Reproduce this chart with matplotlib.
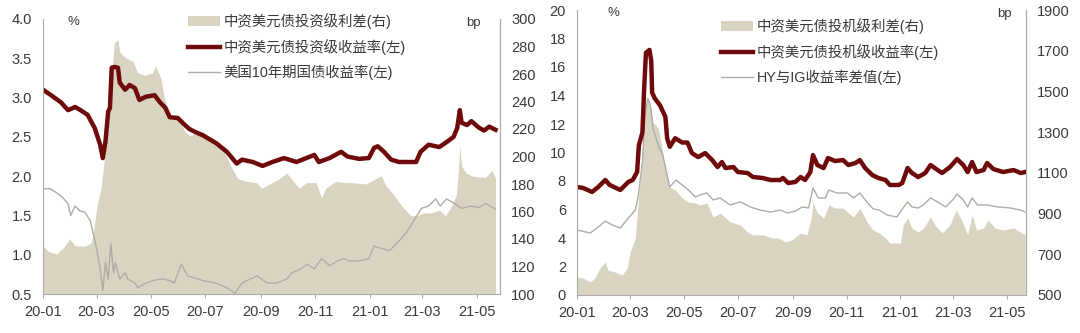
import matplotlib
matplotlib.use("Agg")
import matplotlib.pyplot as plt
import matplotlib.dates as mdates
import pandas as pd

plt.rcParams['font.family'] = ['Liberation Sans', 'Noto Sans CJK SC']

# ---- 投资级 (left panel) ----
ig_yield_dates = [
    "2020-01-01", "2020-01-10", "2020-01-21", "2020-01-29", "2020-02-06", "2020-02-12",
    "2020-02-20", "2020-02-28", "2020-03-05", "2020-03-08", "2020-03-11", "2020-03-14",
    "2020-03-16", "2020-03-18", "2020-03-21", "2020-03-25", "2020-03-27", "2020-04-02",
    "2020-04-07", "2020-04-13", "2020-04-18", "2020-04-25", "2020-05-05", "2020-05-11",
    "2020-05-17", "2020-05-22", "2020-05-31", "2020-06-08", "2020-06-13", "2020-06-20",
    "2020-06-28", "2020-07-13", "2020-07-25", "2020-08-05", "2020-08-11", "2020-08-23",
    "2020-09-03", "2020-09-14", "2020-09-27", "2020-10-11", "2020-10-22", "2020-10-31",
    "2020-11-05", "2020-11-17", "2020-11-30", "2020-12-07", "2020-12-20", "2020-12-31",
    "2021-01-06", "2021-01-10", "2021-01-17", "2021-01-25", "2021-02-03", "2021-02-14",
    "2021-02-22", "2021-02-27", "2021-03-08", "2021-03-20", "2021-03-29", "2021-04-05",
    "2021-04-09", "2021-04-12", "2021-04-14", "2021-04-20", "2021-04-25", "2021-05-03",
    "2021-05-09", "2021-05-15", "2021-05-22",
]
ig_yield = [
    3.10, 3.03, 2.94, 2.84, 2.88, 2.84,
    2.78, 2.61, 2.40, 2.23, 2.44, 2.82,
    2.87, 3.38, 3.39, 3.38, 3.19, 3.10,
    3.16, 3.12, 2.97, 3.01, 3.03, 2.94,
    2.87, 2.75, 2.74, 2.65, 2.60, 2.56,
    2.52, 2.42, 2.31, 2.16, 2.21, 2.18,
    2.13, 2.18, 2.23, 2.18, 2.23, 2.27,
    2.18, 2.23, 2.31, 2.25, 2.22, 2.23,
    2.36, 2.38, 2.31, 2.21, 2.18, 2.18,
    2.18, 2.31, 2.40, 2.37, 2.44, 2.50,
    2.61, 2.84, 2.68, 2.65, 2.70, 2.62,
    2.58, 2.63, 2.59,
]

ig_spread_dates = [
    "2020-01-01", "2020-01-07", "2020-01-16", "2020-01-23", "2020-01-31", "2020-02-06",
    "2020-02-17", "2020-02-24", "2020-02-28", "2020-03-02", "2020-03-06", "2020-03-10",
    "2020-03-14", "2020-03-17", "2020-03-21", "2020-03-25", "2020-03-27", "2020-04-02",
    "2020-04-11", "2020-04-16", "2020-04-24", "2020-05-03", "2020-05-06", "2020-05-12",
    "2020-05-16", "2020-05-23", "2020-05-31", "2020-06-08", "2020-06-14", "2020-06-22",
    "2020-06-28", "2020-07-09", "2020-07-20", "2020-07-31", "2020-08-06", "2020-08-16",
    "2020-08-27", "2020-09-02", "2020-09-11", "2020-09-22", "2020-09-30", "2020-10-05",
    "2020-10-14", "2020-10-22", "2020-11-02", "2020-11-08", "2020-11-13", "2020-11-24",
    "2020-12-06", "2020-12-12", "2020-12-28", "2021-01-08", "2021-01-14", "2021-01-19",
    "2021-01-28", "2021-02-06", "2021-02-16", "2021-02-23", "2021-03-03", "2021-03-11",
    "2021-03-20", "2021-03-27", "2021-04-03", "2021-04-08", "2021-04-10", "2021-04-12",
    "2021-04-14", "2021-04-19", "2021-04-25", "2021-05-03", "2021-05-11", "2021-05-18",
    "2021-05-22",
]
ig_spread = [
    135, 131, 129, 133, 140, 135,
    135, 137, 152, 166, 177, 199,
    223, 254, 283, 285, 276, 272,
    269, 261, 259, 261, 266, 257,
    242, 230, 229, 218, 215, 218,
    218, 213, 206, 191, 184, 182,
    181, 177, 180, 184, 188, 184,
    177, 181, 181, 170, 177, 182,
    181, 181, 180, 184, 186, 179,
    172, 164, 157, 157, 159, 159,
    161, 157, 164, 172, 186, 208,
    193, 188, 186, 185, 185, 190,
    184,
]

ust_dates = [
    "2020-01-01", "2020-01-09", "2020-01-16", "2020-01-23", "2020-01-29", "2020-02-01",
    "2020-02-06", "2020-02-11", "2020-02-17", "2020-02-23", "2020-02-26", "2020-03-01",
    "2020-03-05", "2020-03-08", "2020-03-11", "2020-03-14", "2020-03-17", "2020-03-20",
    "2020-03-22", "2020-03-27", "2020-04-02", "2020-04-05", "2020-04-13", "2020-04-16",
    "2020-04-24", "2020-05-03", "2020-05-11", "2020-05-16", "2020-05-22", "2020-05-27",
    "2020-06-04", "2020-06-11", "2020-06-20", "2020-06-28", "2020-07-13", "2020-07-25",
    "2020-08-03", "2020-08-11", "2020-08-20", "2020-08-28", "2020-09-08", "2020-09-19",
    "2020-09-30", "2020-10-06", "2020-10-16", "2020-10-23", "2020-10-31", "2020-11-08",
    "2020-11-17", "2020-11-26", "2020-12-03", "2020-12-09", "2020-12-20", "2020-12-31",
    "2021-01-06", "2021-01-11", "2021-01-23", "2021-02-01", "2021-02-11", "2021-02-16",
    "2021-02-23", "2021-02-28", "2021-03-08", "2021-03-16", "2021-03-21", "2021-03-28",
    "2021-04-05", "2021-04-14", "2021-04-25", "2021-05-03", "2021-05-11", "2021-05-22",
]
ust_yield = [
    1.84, 1.84, 1.79, 1.73, 1.65, 1.50,
    1.62, 1.56, 1.54, 1.43, 1.28, 1.08,
    0.82, 0.54, 0.90, 0.69, 1.14, 0.77,
    0.90, 0.69, 0.77, 0.69, 0.64, 0.58,
    0.63, 0.67, 0.69, 0.69, 0.67, 0.64,
    0.88, 0.73, 0.70, 0.67, 0.64, 0.58,
    0.51, 0.64, 0.69, 0.73, 0.64, 0.64,
    0.69, 0.77, 0.82, 0.88, 0.82, 0.95,
    0.86, 0.92, 0.95, 0.92, 0.92, 0.95,
    1.11, 1.09, 1.05, 1.15, 1.28, 1.37,
    1.50, 1.59, 1.62, 1.71, 1.62, 1.71,
    1.66, 1.59, 1.62, 1.60, 1.65, 1.58,
]

# ---- 投机级 (right panel) ----
hy_yield_dates = [
    "2020-01-01", "2020-01-08", "2020-01-18", "2020-01-25", "2020-02-02", "2020-02-07",
    "2020-02-19", "2020-02-28", "2020-03-04", "2020-03-09", "2020-03-11", "2020-03-15",
    "2020-03-17", "2020-03-19", "2020-03-23", "2020-03-25", "2020-03-26", "2020-03-29",
    "2020-04-04", "2020-04-10", "2020-04-12", "2020-04-15", "2020-04-21", "2020-04-29",
    "2020-05-05", "2020-05-10", "2020-05-17", "2020-05-25", "2020-06-02", "2020-06-08",
    "2020-06-13", "2020-06-17", "2020-06-26", "2020-07-01", "2020-07-12", "2020-07-18",
    "2020-07-29", "2020-08-07", "2020-08-18", "2020-08-21", "2020-08-27", "2020-09-04",
    "2020-09-10", "2020-09-15", "2020-09-21", "2020-09-24", "2020-09-29", "2020-10-06",
    "2020-10-11", "2020-10-19", "2020-10-28", "2020-11-03", "2020-11-11", "2020-11-16",
    "2020-11-22", "2020-11-30", "2020-12-07", "2020-12-15", "2020-12-20", "2020-12-30",
    "2021-01-03", "2021-01-09", "2021-01-14", "2021-01-21", "2021-01-29", "2021-02-04",
    "2021-02-12", "2021-02-17", "2021-02-26", "2021-03-06", "2021-03-13", "2021-03-18",
    "2021-03-23", "2021-03-28", "2021-04-05", "2021-04-09", "2021-04-16", "2021-04-27",
    "2021-05-09", "2021-05-17", "2021-05-22",
]
hy_yield = [
    7.58, 7.51, 7.23, 7.58, 8.07, 7.72,
    7.37, 7.93, 8.07, 8.63, 10.5, 11.4,
    14.5, 17.0, 17.2, 16.4, 14.2, 13.8,
    13.3, 12.5, 11.0, 10.4, 11.0, 10.7,
    10.7, 9.96, 9.68, 9.96, 9.47, 8.98,
    9.33, 8.91, 8.98, 8.63, 8.56, 8.28,
    8.21, 8.07, 8.07, 8.21, 7.86, 7.93,
    8.28, 8.07, 8.63, 9.82, 9.12, 8.91,
    9.61, 9.40, 9.47, 9.12, 9.26, 9.47,
    8.91, 8.42, 8.21, 8.07, 7.72, 7.72,
    7.86, 8.91, 8.56, 8.28, 8.56, 9.12,
    8.77, 8.56, 8.98, 9.54, 9.12, 8.63,
    9.33, 8.63, 8.77, 9.26, 8.84, 8.63,
    8.77, 8.56, 8.63,
]

hy_ig_dates = [
    "2020-01-01", "2020-01-16", "2020-01-25", "2020-02-02", "2020-02-10", "2020-02-19",
    "2020-02-28", "2020-03-07", "2020-03-10", "2020-03-15", "2020-03-18", "2020-03-21",
    "2020-03-24", "2020-03-27", "2020-04-02", "2020-04-07", "2020-04-12", "2020-04-15",
    "2020-04-22", "2020-04-29", "2020-05-06", "2020-05-14", "2020-05-19", "2020-05-27",
    "2020-06-03", "2020-06-11", "2020-06-22", "2020-07-04", "2020-07-15", "2020-07-26",
    "2020-08-07", "2020-08-18", "2020-08-26", "2020-09-04", "2020-09-12", "2020-09-19",
    "2020-09-24", "2020-09-30", "2020-10-08", "2020-10-12", "2020-10-21", "2020-11-02",
    "2020-11-09", "2020-11-16", "2020-11-24", "2020-12-01", "2020-12-08", "2020-12-17",
    "2020-12-28", "2021-01-04", "2021-01-09", "2021-01-14", "2021-01-21", "2021-01-27",
    "2021-02-04", "2021-02-12", "2021-02-21", "2021-03-01", "2021-03-06", "2021-03-13",
    "2021-03-18", "2021-03-23", "2021-03-29", "2021-04-09", "2021-04-21", "2021-05-05",
    "2021-05-17", "2021-05-22",
]
hy_ig_diff = [
    4.56, 4.35, 4.77, 5.19, 4.91, 4.70,
    5.40, 5.96, 6.81, 9.33, 12.6, 13.8,
    13.3, 11.7, 10.5, 9.82, 8.42, 7.58,
    8.07, 7.72, 7.37, 6.88, 7.02, 7.16,
    6.67, 6.81, 6.32, 6.53, 6.18, 5.96,
    5.82, 5.96, 5.75, 5.89, 6.18, 6.11,
    7.51, 6.81, 6.81, 7.37, 7.16, 7.16,
    6.81, 7.16, 6.53, 6.04, 5.96, 5.61,
    5.47, 6.11, 6.53, 6.18, 6.11, 6.32,
    6.81, 6.53, 6.18, 6.67, 7.09, 6.67,
    6.18, 6.81, 6.32, 6.32, 6.18, 6.11,
    5.96, 5.82,
]

hy_spread_dates = [
    "2020-01-01", "2020-01-08", "2020-01-16", "2020-01-21", "2020-01-27", "2020-02-02",
    "2020-02-05", "2020-02-13", "2020-02-21", "2020-02-27", "2020-03-01", "2020-03-07",
    "2020-03-10", "2020-03-15", "2020-03-18", "2020-03-21", "2020-03-24", "2020-03-27",
    "2020-04-02", "2020-04-07", "2020-04-12", "2020-04-15", "2020-04-21", "2020-04-29",
    "2020-05-06", "2020-05-14", "2020-05-19", "2020-05-27", "2020-06-03", "2020-06-11",
    "2020-06-20", "2020-06-22", "2020-07-04", "2020-07-12", "2020-07-18", "2020-07-30",
    "2020-08-09", "2020-08-16", "2020-08-24", "2020-08-31", "2020-09-10", "2020-09-17",
    "2020-09-22", "2020-09-24", "2020-09-29", "2020-10-06", "2020-10-12", "2020-10-19",
    "2020-10-28", "2020-11-03", "2020-11-09", "2020-11-16", "2020-11-24", "2020-12-01",
    "2020-12-08", "2020-12-15", "2020-12-20", "2021-01-01", "2021-01-04", "2021-01-09",
    "2021-01-14", "2021-01-21", "2021-01-27", "2021-02-04", "2021-02-09", "2021-02-17",
    "2021-02-26", "2021-03-05", "2021-03-12", "2021-03-18", "2021-03-23", "2021-03-28",
    "2021-04-05", "2021-04-10", "2021-04-18", "2021-04-27", "2021-05-09", "2021-05-17",
    "2021-05-22",
]
hy_spread = [
    588, 583, 564, 583, 633, 662,
    623, 613, 598, 633, 711, 780,
    942, 1188, 1384, 1468, 1433, 1350,
    1320, 1202, 1075, 1030, 1016, 976,
    957, 952, 942, 952, 883, 903,
    868, 859, 844, 809, 795, 795,
    780, 780, 760, 770, 805, 795,
    878, 952, 903, 878, 942, 927,
    927, 903, 883, 927, 859, 819,
    805, 780, 755, 755, 844, 878,
    829, 809, 829, 883, 844, 805,
    844, 918, 859, 795, 893, 819,
    829, 868, 829, 819, 829, 809,
    795,
]

FILL = "#d9d4c1"
RED = "#6e0a0a"
GREY = "#aeada6"
SPINE = "#ababab"
TEXT = "#3a3a3a"

x_start = pd.Timestamp("2020-01-01")


def draw_panel(rect, x_end, spread_d, spread, spread_lab, thick_d, thick, thick_lab,
               thin_d, thin, thin_lab, left_lim, left_ticks, right_lim, right_ticks,
               left_fmt, legend_xy):
    ax = fig.add_axes(rect)
    ax2 = ax.twinx()

    # spread area sits behind the yield lines
    ax2.fill_between(pd.to_datetime(spread_d), right_lim[0], spread,
                     color=FILL, linewidth=0, label=spread_lab)
    ax.plot(pd.to_datetime(thin_d), thin, color=GREY, lw=1.0, label=thin_lab)
    ax.plot(pd.to_datetime(thick_d), thick, color=RED, lw=3.2,
            solid_joinstyle="round", label=thick_lab)
    ax.set_zorder(ax2.get_zorder() + 1)
    ax.patch.set_visible(False)

    ax.set_xlim(x_start, pd.Timestamp(x_end))
    ax.set_ylim(*left_lim)
    ax2.set_ylim(*right_lim)
    ax.set_yticks(left_ticks)
    ax.set_yticklabels([left_fmt.format(v) for v in left_ticks])
    ax2.set_yticks(right_ticks)

    ax.xaxis.set_major_locator(mdates.MonthLocator(bymonth=[1, 3, 5, 7, 9, 11]))
    ax.xaxis.set_major_formatter(mdates.DateFormatter("%y-%m"))

    for a in (ax, ax2):
        for s in a.spines.values():
            s.set_color(SPINE)
            s.set_linewidth(0.8)
        a.spines["top"].set_visible(False)
        a.tick_params(labelsize=10.5, colors=TEXT, length=0, pad=8)
    ax.tick_params(axis="x", length=3, color=SPINE, pad=5)
    ax2.spines["left"].set_visible(False)
    ax2.spines["bottom"].set_visible(False)

    handles = [ax2.collections[0], ax.lines[1], ax.lines[0]]
    labels = [spread_lab, thick_lab, thin_lab]
    fig.legend(handles, labels, loc="upper left", bbox_to_anchor=legend_xy,
               frameon=False, fontsize=10.4, handlelength=2.2, handletextpad=0.25,
               labelspacing=0.68, borderpad=0, borderaxespad=0, labelcolor=TEXT)
    return ax, ax2


fig = plt.figure(figsize=(10.8, 3.33), dpi=100)

axl, axl2 = draw_panel(
    [43 / 1080, 1 - 294 / 333, 457 / 1080, 275 / 333], "2021-05-27",
    ig_spread_dates, ig_spread, "中资美元债投资级利差(右)",
    ig_yield_dates, ig_yield, "中资美元债投资级收益率(左)",
    ust_dates, ust_yield, "美国10年期国债收益率(左)",
    (0.5, 4.0), [0.5, 1.0, 1.5, 2.0, 2.5, 3.0, 3.5, 4.0],
    (100, 300), list(range(100, 301, 20)), "{:.1f}",
    (188 / 1080, 1 - 13 / 333))

axr, axr2 = draw_panel(
    [577 / 1080, 1 - 295 / 333, 449 / 1080, 285 / 333], "2021-05-23",
    hy_spread_dates, hy_spread, "中资美元债投机级利差(右)",
    hy_yield_dates, hy_yield, "中资美元债投机级收益率(左)",
    hy_ig_dates, hy_ig_diff, "HY与IG收益率差值(左)",
    (0, 20), list(range(0, 21, 2)),
    (500, 1900), list(range(500, 1901, 200)), "{:.0f}",
    (721 / 1080, 1 - 18 / 333))

# unit captions at the top of each panel
fig.text(68 / 1080, 1 - 22 / 333, "%", fontsize=9.5, color=TEXT, va="center")
fig.text(466 / 1080, 1 - 23 / 333, "bp", fontsize=9.5, color=TEXT, va="center")
fig.text(607 / 1080, 1 - 13 / 333, "%", fontsize=9.5, color=TEXT, va="center")
fig.text(997 / 1080, 1 - 14 / 333, "bp", fontsize=9.5, color=TEXT, va="center")

fig.savefig("out.png", dpi=100)
